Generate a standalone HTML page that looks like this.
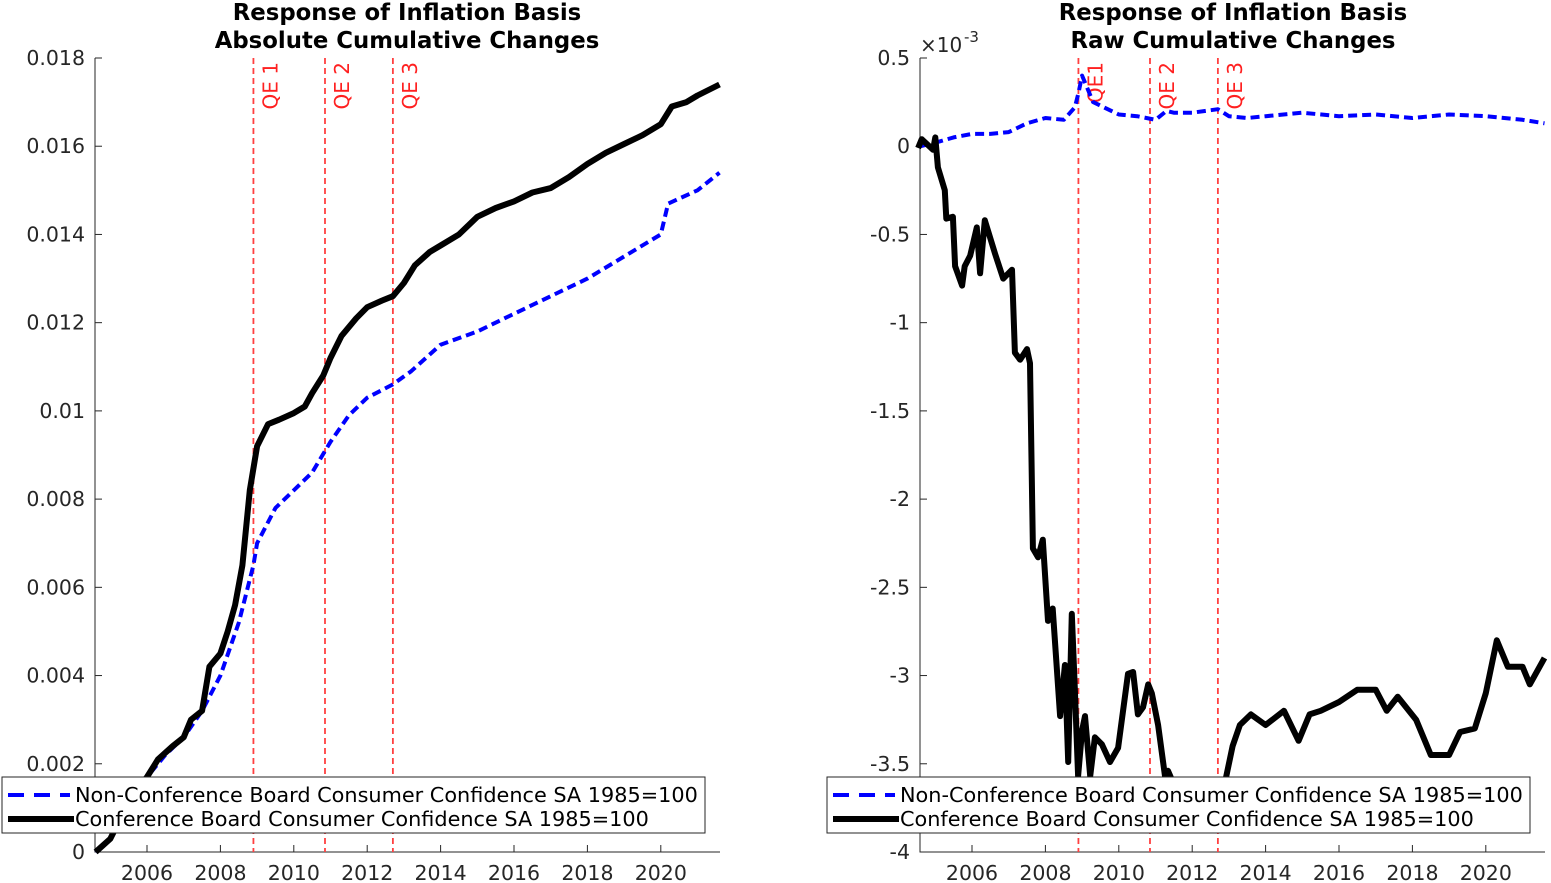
<!DOCTYPE html>
<html><head><meta charset="utf-8"><style>
html,body{margin:0;padding:0;background:#fff;}
svg{display:block;font-family:"DejaVu Sans","Liberation Sans",sans-serif;}
</style></head><body>
<svg id="fig" width="1551" height="883" viewBox="0 0 1551 883" xmlns="http://www.w3.org/2000/svg"></svg>
<script>
// ---- data ----
const qeYears = [2008.9, 2010.85, 2012.7];
const qeLabelsL = ["QE 1","QE 2","QE 3"];
const qeLabelsR = ["QE1","QE 2","QE 3"];
const xTicks = [2006,2008,2010,2012,2014,2016,2018,2020];
const leftYTicks = [0,0.002,0.004,0.006,0.008,0.01,0.012,0.014,0.016,0.018];
const rightYTicks = [0.5,0,-0.5,-1,-1.5,-2,-2.5,-3,-3.5,-4];
// left: absolute cumulative (x1e-3)
const absConfYears = [2004.6,2004.8,2005,2005.3,2005.6,2006,2006.3,2006.7,2007,2007.2,2007.5,2007.7,2008,2008.2,2008.4,2008.6,2008.8,2009,2009.3,2009.6,2010,2010.3,2010.5,2010.8,2011,2011.3,2011.7,2012,2012.4,2012.7,2013,2013.3,2013.7,2014,2014.5,2015,2015.5,2016,2016.5,2017,2017.5,2018,2018.5,2019,2019.5,2020,2020.3,2020.7,2021,2021.6];
const absConfVals = [0,0.15,0.3,0.8,1.3,1.7,2.1,2.4,2.6,3.0,3.2,4.2,4.5,5.0,5.6,6.5,8.2,9.2,9.7,9.8,9.95,10.1,10.4,10.8,11.2,11.7,12.1,12.35,12.5,12.6,12.9,13.3,13.6,13.75,14.0,14.4,14.6,14.75,14.95,15.05,15.3,15.6,15.85,16.05,16.25,16.5,16.9,17.0,17.15,17.4];
const absNonYears = [2004.6,2005,2005.3,2005.6,2006,2006.5,2007,2007.5,2008,2008.5,2008.9,2009,2009.5,2010,2010.5,2011,2011.5,2012,2012.7,2013.2,2014,2015,2016,2017,2018,2019,2020,2020.2,2021,2021.6];
const absNonVals = [0,0.3,0.8,1.3,1.7,2.2,2.6,3.2,4.0,5.2,6.5,7.0,7.8,8.2,8.6,9.3,9.9,10.3,10.6,10.9,11.5,11.8,12.2,12.6,13.0,13.5,14.0,14.7,15.0,15.4];
// right: raw cumulative (x1e-3)
const rawNonYears = [2004.6,2005,2005.5,2006,2006.5,2007,2007.5,2008,2008.5,2008.8,2008.9,2009.0,2009.1,2009.3,2009.6,2010,2010.5,2011,2011.3,2011.5,2012,2012.7,2013,2013.5,2014,2015,2016,2017,2018,2019,2020,2020.5,2021,2021.6];
const rawNonVals = [0,0.02,0.05,0.07,0.07,0.08,0.13,0.16,0.15,0.22,0.3,0.4,0.35,0.25,0.22,0.18,0.17,0.15,0.2,0.19,0.19,0.21,0.17,0.16,0.17,0.19,0.17,0.18,0.16,0.18,0.17,0.16,0.15,0.13];
const rawConfYears = [2004.53,2004.63,2004.94,2005.0,2005.07,2005.26,2005.3,2005.48,2005.54,2005.73,2005.8,2005.95,2006.13,2006.22,2006.35,2006.63,2006.85,2007.09,2007.17,2007.31,2007.5,2007.58,2007.66,2007.8,2007.93,2008.07,2008.2,2008.4,2008.53,2008.62,2008.72,2008.8,2008.89,2009.0,2009.08,2009.22,2009.35,2009.54,2009.76,2009.98,2010.25,2010.39,2010.52,2010.66,2010.8,2010.9,2011.07,2011.26,2011.34,2011.67,2012.0,2012.5,2012.9,2013.1,2013.3,2013.6,2014.0,2014.5,2014.9,2015.2,2015.5,2016.0,2016.5,2017.0,2017.3,2017.6,2018.1,2018.5,2019.0,2019.3,2019.7,2020.0,2020.3,2020.6,2021.0,2021.2,2021.6];
const rawConfVals = [-0.01,0.04,-0.02,0.05,-0.12,-0.25,-0.41,-0.40,-0.68,-0.79,-0.68,-0.62,-0.46,-0.72,-0.42,-0.61,-0.75,-0.70,-1.17,-1.21,-1.15,-1.23,-2.28,-2.33,-2.23,-2.69,-2.62,-3.23,-2.94,-3.49,-2.65,-3.07,-3.57,-3.31,-3.23,-3.57,-3.35,-3.39,-3.49,-3.41,-2.99,-2.98,-3.22,-3.18,-3.05,-3.10,-3.28,-3.57,-3.54,-3.7,-3.75,-3.8,-3.6,-3.4,-3.28,-3.22,-3.28,-3.2,-3.37,-3.22,-3.2,-3.15,-3.08,-3.08,-3.2,-3.12,-3.25,-3.45,-3.45,-3.32,-3.3,-3.1,-2.8,-2.95,-2.95,-3.05,-2.9];

const NS="http://www.w3.org/2000/svg";
const svg=document.getElementById('fig');
function el(tag,attrs,parent){const e=document.createElementNS(NS,tag);for(const k in attrs)e.setAttribute(k,attrs[k]);(parent||svg).appendChild(e);return e;}
function txt(s,attrs,parent){const t=el('text',attrs,parent);t.textContent=s;return t;}

function panel(cfg){
  const g=el('g',{});
  
  
  const X=y=>cfg.x0+(y-2006)*36.7;
  const Y=v=>cfg.yTop+(cfg.yMax-v)/(cfg.yMax-cfg.yMin)*(852-cfg.yTop);
  const t1=txt(cfg.title1,{x:cfg.cx,y:20,'text-anchor':'middle','font-weight':'bold','font-size':22.8},g);
  
  const t2=txt(cfg.title2,{x:cfg.cx,y:48,'text-anchor':'middle','font-weight':'bold','font-size':22.8},g);
  
  const ax=el('path',{d:`M${cfg.ax},${cfg.yTop} V852 H${cfg.ax+625}`,stroke:'#262626','stroke-width':1,fill:'none'},g);
  
  cfg.yTicks.forEach((v,i)=>{
    const y=Y(v);
    el('line',{x1:cfg.ax,x2:cfg.ax+7,y1:y,y2:y,stroke:'#262626'},g);
    const l=txt(cfg.yLabels[i],{x:cfg.ax-10,y:y+7,'text-anchor':'end','font-size':20.5,fill:'#262626'},g);
    
  });
  xTicks.forEach(yr=>{
    const x=X(yr);
    el('line',{x1:x,x2:x,y1:852,y2:845,stroke:'#262626'},g);
    const l=txt(String(yr),{x:x,y:880,'text-anchor':'middle','font-size':20.5,fill:'#262626'},g);
    
  });
  if(cfg.exp){const e=txt('×10',{x:cfg.ax,y:52,'font-size':20,fill:'#262626'},g);
    
    txt('-3',{x:cfg.ax+44,y:42,'font-size':15,fill:'#262626'},g);}
  qeYears.forEach((yr,i)=>{
    const x=X(yr);
    const ln=el('line',{x1:x,x2:x,y1:cfg.yTop,y2:852,stroke:'#ff4040','stroke-width':1.8,'stroke-dasharray':'6,4'},g);
    
    const l=txt(cfg.qe[i],{x:0,y:0,'font-size':20,fill:'#ff2020','text-anchor':'end',transform:`translate(${x+24},62) rotate(-90)`},g);
    
  });
  const pts=(ys,vs)=>ys.map((y,i)=>X(y).toFixed(1)+','+Y(vs[i]*cfg.scale).toFixed(1)).join(' ');
  const b=el('polyline',{points:pts(cfg.nonY,cfg.nonV),fill:'none',stroke:'#0000ff','stroke-width':4,'stroke-dasharray':'9,5','stroke-linejoin':'round'},g);
  
  const k=el('polyline',{points:pts(cfg.confY,cfg.confV),fill:'none',stroke:'#000','stroke-width':6,'stroke-linejoin':'round'},g);
  
  const lg=el('g',{},g);
  
  el('rect',{x:cfg.lx,y:777,width:703,height:56,fill:'#fff',stroke:'#262626','stroke-width':1},lg);
  el('line',{x1:cfg.lx+6,x2:cfg.lx+68,y1:795,y2:795,stroke:'#0000ff','stroke-width':4,'stroke-dasharray':'16,10'},lg);
  el('line',{x1:cfg.lx+6,x2:cfg.lx+72,y1:819,y2:819,stroke:'#000','stroke-width':6},lg);
  const e1=txt('Non-Conference Board Consumer Confidence SA 1985=100',{x:cfg.lx+73,y:802,'font-size':20.8,fill:'#000'},lg);
  
  const e2=txt('Conference Board Consumer Confidence SA 1985=100',{x:cfg.lx+73,y:826,'font-size':20.8,fill:'#000'},lg);
  
}
panel({name:'left-panel',x0:147,ax:95,cx:407,yTop:58,yMax:0.018,yMin:0,scale:0.001,
  yTicks:leftYTicks,yLabels:['0','0.002','0.004','0.006','0.008','0.01','0.012','0.014','0.016','0.018'],
  title1:'Response of Inflation Basis',title2:'Absolute Cumulative Changes',qe:qeLabelsL,
  nonY:absNonYears,nonV:absNonVals,confY:absConfYears,confV:absConfVals,lx:2});
panel({name:'right-panel',x0:972,ax:920,cx:1233,yTop:58,yMax:0.5,yMin:-4,scale:1,exp:true,
  yTicks:rightYTicks,yLabels:['0.5','0','-0.5','-1','-1.5','-2','-2.5','-3','-3.5','-4'],
  title1:'Response of Inflation Basis',title2:'Raw Cumulative Changes',qe:qeLabelsR,
  nonY:rawNonYears,nonV:rawNonVals,confY:rawConfYears,confV:rawConfVals,lx:827});
</script>
</body></html>
